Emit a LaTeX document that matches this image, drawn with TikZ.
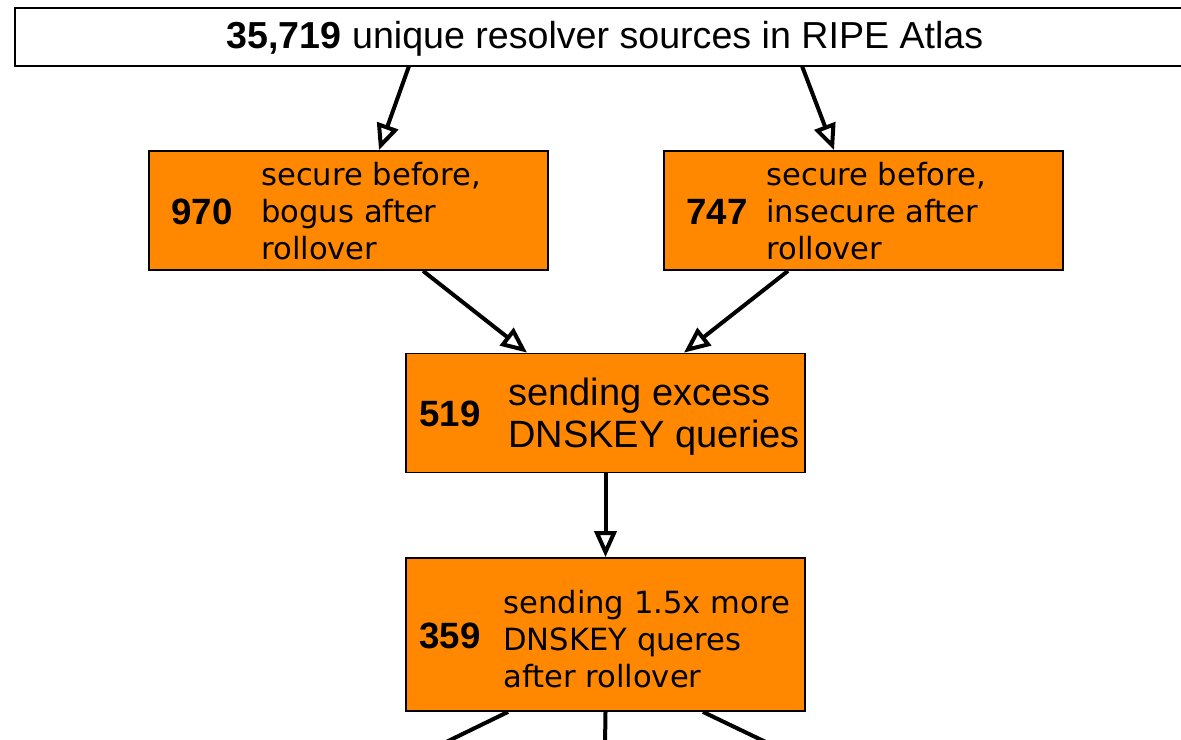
\documentclass[tikz,border=0pt]{standalone}
\usepackage{fontspec}
\setmainfont{Liberation Sans}
\newfontfamily\dejavu{DejaVu Sans}
\usetikzlibrary{arrows.meta}
\definecolor{boxorange}{HTML}{FF8800}

\tikzset{
    box/.style={draw=black, line width=0.9pt, fill=boxorange, inner sep=0pt},
    num/.style={font=\bfseries\fontsize{18.3}{21}\selectfont, inner sep=0pt},
    txt/.style={anchor=west, align=left, inner sep=0pt,
                font=\dejavu\fontsize{15.3}{18.6}\selectfont},
    flow/.style={-{Triangle[open, length=13pt, width=11pt]}, line width=2pt}
}

\begin{document}
\begin{tikzpicture}[x=0.5pt, y=-0.5pt]
    \def\bw{399}
    \def\bh{119}

    \useasboundingbox (0,0) rectangle (1181,739);

    % top box
    \draw[line width=0.9pt, fill=white] (15,8) rectangle (1185,66);
    \node[inner sep=0pt, font=\fontsize{18.8}{22}\selectfont] (top) at (605,39)
        {\textbf{35,719} unique resolver sources in RIPE Atlas};
    \coordinate (topl) at (409,66);
    \coordinate (topr) at (802,66);

    % second row
    \node[box, minimum width=\bw*0.5pt, minimum height=\bh*0.5pt] (bogus) at (348.5,210.5) {};
    \node[num] (nbogus) at (202,212) {970};
    \node[txt] (tbogus) at (261,211) {secure before,\\bogus after\\rollover};

    \node[box, minimum width=\bw*0.5pt, minimum height=\bh*0.5pt] (insec) at (863.5,210.5) {};
    \node[num] (ninsec) at (717,212) {747};
    \node[txt] (tinsec) at (766,211) {secure before,\\insecure after\\rollover};

    % third row
    \node[box, minimum width=\bw*0.5pt, minimum height=\bh*0.5pt] (excess) at (605.5,413) {};
    \node[num] (nexcess) at (450,414) {519};
    \node[txt, font=\fontsize{19}{21}\selectfont] (texcess) at (508,417) {sending excess\\DNSKEY queries};

    % fourth row
    \node[box, minimum width=\bw*0.5pt, minimum height=153*0.5pt] (more) at (605.5,634.5) {};
    \node[num] (nmore) at (450,636) {359};
    \node[txt] (tmore) at (503,639) {sending 1.5x more\\DNSKEY queres\\after rollover};

    \coordinate (outl) at (440,745);
    \coordinate (outm) at (605,745);
    \coordinate (outr) at (772,745);

    \draw[flow] (topl) -- (bogus.north -| 379,0);
    \draw[flow] (topr) -- (insec.north -| 834,0);
    \draw[flow] (bogus.south -| 423,0) -- (excess.north -| 527,0);
    \draw[flow] (insec.south -| 788,0) -- (excess.north -| 684,0);
    \draw[flow] (excess.south) -- (more.north);

    \draw[line width=2pt] (more.south -| 508,0) -- (outl);
    \draw[line width=2pt] (more.south) -- (outm);
    \draw[line width=2pt] (more.south -| 703,0) -- (outr);
\end{tikzpicture}
\end{document}
